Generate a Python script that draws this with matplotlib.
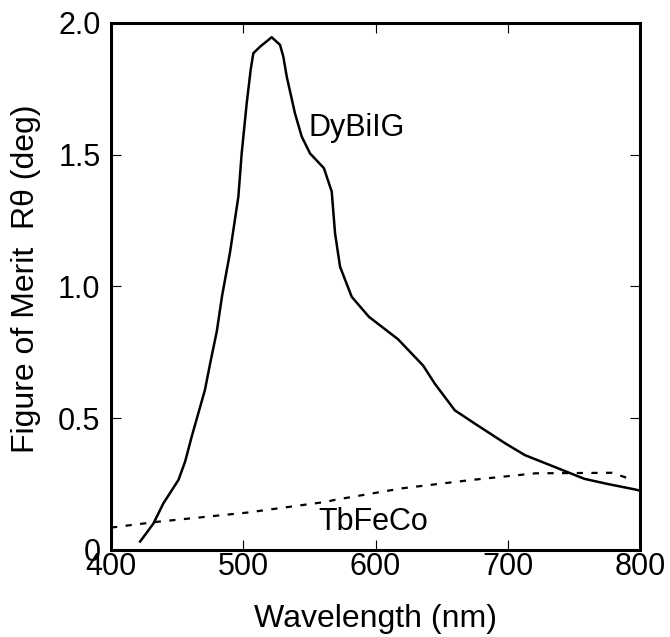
import numpy as np
import matplotlib
matplotlib.use("Agg")
import matplotlib.pyplot as plt

plt.rcParams['font.family'] = ['Liberation Sans', 'DejaVu Sans']

# DyBiIG (solid)
wl_dy = [422, 432, 439.6, 451, 456, 461, 471, 475, 480, 484, 490, 496.3, 498.8, 502.6, 505.6, 507.6,
         512.7, 521.5, 527.8, 530.3, 532.9, 539.1, 544.2, 550.5, 561, 566.9, 569.4, 573.2, 582,
         595, 617, 636, 645, 660, 675, 698, 713, 743, 758, 776, 796, 800]
r_dy = [0.032, 0.10, 0.177, 0.266, 0.335, 0.43, 0.607, 0.709, 0.83, 0.965, 1.13, 1.341, 1.505, 1.695, 1.822, 1.885,
        1.91, 1.946, 1.917, 1.872, 1.796, 1.657, 1.569, 1.505, 1.449, 1.36, 1.202, 1.075, 0.961,
        0.885, 0.80, 0.70, 0.63, 0.53, 0.48, 0.405, 0.36, 0.30, 0.27, 0.25, 0.23, 0.225]

# TbFeCo (dashed)
wl_tb = [400, 435, 503, 563, 569, 620, 673, 721, 779, 791]
r_tb = [0.085, 0.107, 0.142, 0.183, 0.19, 0.234, 0.266, 0.291, 0.293, 0.272]

fig = plt.figure(figsize=(6.7, 6.37), dpi=100)
ax = fig.add_axes([0.1657, 0.1366, 0.9552 - 0.1657, 0.9639 - 0.1366])

ax.plot(wl_dy, r_dy, color='black', lw=1.8)
ax.plot(wl_tb, r_tb, color='black', lw=1.6, dashes=(2.8, 3.8))

ax.text(549, 1.60, 'DyBiIG', fontsize=22, va='center', ha='left')
ax.text(557, 0.107, 'TbFeCo', fontsize=22, va='center', ha='left')

ax.set_xlim(400, 800)
ax.set_ylim(0, 2.0)
ax.set_xticks([400, 500, 600, 700, 800])
ax.set_yticks([0, 0.5, 1.0, 1.5, 2.0])
ax.set_yticklabels(['0', '0.5', '1.0', '1.5', '2.0'])
ax.tick_params(axis='both', direction='in', length=7.5, width=0.8, labelsize=22,
               top=True, right=True)
ax.tick_params(axis='x', pad=1.5)
ax.tick_params(axis='y', pad=7.5)
for s in ax.spines.values():
    s.set_linewidth(2.2)

ax.set_xlabel('Wavelength (nm)', fontsize=23, labelpad=16)
ax.set_ylabel('Figure of Merit  R\u03b8 (deg)', fontsize=23)
ax.yaxis.set_label_coords(-0.133, 0.515)

fig.savefig('out.png', dpi=100)
